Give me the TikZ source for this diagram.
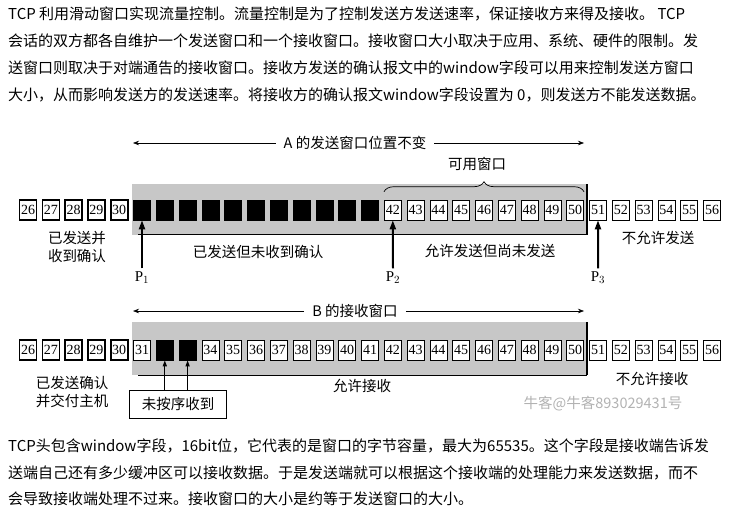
\documentclass[tikz,border=0pt]{standalone}
\usepackage{fontspec}
\setmainfont{Liberation Serif}
\newfontfamily\cjk{Noto Sans CJK SC}
\usetikzlibrary{arrows.meta,decorations.pathreplacing}
\begin{document}
\begin{tikzpicture}
        [x=1pt, y=-1pt,
        seg/.style={draw, minimum width=17pt, minimum height=20pt, inner sep=0pt,
            font=\fontsize{14}{14}\selectfont, line width=0.6pt},
        acked/.style={seg, line width=1.6pt},
        sent/.style={seg, fill=black},
        band/.style={fill=black!22},
        lbl/.style={font=\cjk\fontsize{14.5}{18}\selectfont, align=center, inner sep=0pt},
        para/.style={font=\cjk\fontsize{15}{17}\selectfont, anchor=west, inner sep=0pt},
        ptr/.style={-{Triangle[length=9pt,width=6pt]}, line width=2pt},
        span/.style={-{Stealth[length=6pt]}, line width=0.6pt}]

        \useasboundingbox (0,0) rectangle (737,514);

        % paragraphs
        \node[para] (t1) at (8,14) {TCP 利用滑动窗口实现流量控制。流量控制是为了控制发送方发送速率，保证接收方来得及接收。 TCP};
        \node[para] (t2) at (8,41) {会话的双方都各自维护一个发送窗口和一个接收窗口。接收窗口大小取决于应用、系统、硬件的限制。发};
        \node[para] (t3) at (8,68) {送窗口则取决于对端通告的接收窗口。接收方发送的确认报文中的window字段可以用来控制发送方窗口};
        \node[para] (t4) at (8,95) {大小，从而影响发送方的发送速率。将接收方的确认报文window字段设置为 0，则发送方不能发送数据。};
        \node[para] (u1) at (8,446) {TCP头包含window字段，16bit位，它代表的是窗口的字节容量，最大为65535。这个字段是接收端告诉发};
        \node[para] (u2) at (8,473) {送端自己还有多少缓冲区可以接收数据。于是发送端就可以根据这个接收端的处理能力来发送数据，而不};
        \node[para] (u3) at (8,499) {会导致接收端处理不过来。接收窗口的大小是约等于发送窗口的大小。};

        % gray windows
        \fill[band] (132,184) rectangle (587,235);
        \fill[band] (132,322) rectangle (587,375);

        % sender row
        \foreach \n in {26,...,56} {
            \pgfmathsetmacro{\px}{28+(\n-26)*22.8}
            \ifnum\n<31
                \node[acked, fill=white] (a\n) at (\px,210) {\n};
            \else\ifnum\n<42
                \node[sent] (a\n) at (\px,210) {};
            \else
                \node[seg, fill=white] (a\n) at (\px,210) {\n};
            \fi\fi
        }
        % receiver row
        \foreach \n in {26,...,56} {
            \pgfmathsetmacro{\px}{28+(\n-26)*22.8}
            \ifnum\n<31
                \node[acked, fill=white] (b\n) at (\px,350) {\n};
            \else\ifnum\n=32
                \node[sent] (b\n) at (\px,350) {};
            \else\ifnum\n=33
                \node[sent] (b\n) at (\px,350) {};
            \else
                \node[seg, fill=white] (b\n) at (\px,350) {\n};
            \fi\fi\fi
        }

        % window edges
        \draw[line width=1.2pt] (587,184) -- (587,235);
        \draw[line width=1.2pt] (587,322) -- (587,375);
        \draw[line width=1pt] (138,234) -- (587,234);
        \draw[line width=1pt] (138,375) -- (587,375);

        % sender labels
        \node[lbl] (A) at (355,143) {A 的发送窗口位置不变};
        \draw[span] (A.west) ++(-8,0) -- (133,143);
        \draw[span] (A.east) ++(8,0) -- (584,143);
        \draw[decorate, decoration={brace, amplitude=10pt}, line width=0.7pt]
            ([yshift=8pt]a42.north west) -- ([yshift=8pt]a50.north east);
        \node[lbl] (avail) at (477,164) {可用窗口};
        \node[lbl] (done) at (77,247) {已发送并\\收到确认};
        \node[lbl] (unack) at (258,252) {已发送但未收到确认};
        \node[lbl] (usable) at (490,251) {允许发送但尚未发送};
        \node[lbl] (deny) at (658,238) {不允许发送};
        \node[font=\fontsize{15}{15}\selectfont] (P1) at (142,278) {P$_1$};
        \node[font=\fontsize{15}{15}\selectfont] (P2) at (393,278) {P$_2$};
        \node[font=\fontsize{15}{15}\selectfont] (P3) at (598,278) {P$_3$};
        \draw[ptr] (P1.north) -- (a31.south);
        \draw[ptr] (P2.north) -- (a42.south);
        \draw[ptr] (P3.north) -- (a51.south);

        % receiver labels
        \node[lbl] (B) at (355,311) {B 的接收窗口};
        \draw[span] (B.west) ++(-8,0) -- (133,311);
        \draw[span] (B.east) ++(8,0) -- (584,311);
        \node[lbl] (given) at (72,392) {已发送确认\\并交付主机};
        \node[lbl] (accept) at (362,386) {允许接收};
        \node[lbl] (refuse) at (652,379) {不允许接收};
        \node[lbl, draw, line width=0.7pt, minimum width=97pt, minimum height=28pt] (ooo) at (178,404) {未按序收到};
        \draw[-{Triangle[length=6pt,width=4pt]}, line width=1.2pt] (ooo.north -| b32) -- (b32.south);
        \draw[-{Triangle[length=6pt,width=4pt]}, line width=1.2pt] (ooo.north -| b33) -- (b33.south);
        \node[lbl, text=black!30] (mark) at (603,404) {牛客@牛客893029431号};
\end{tikzpicture}
\end{document}
